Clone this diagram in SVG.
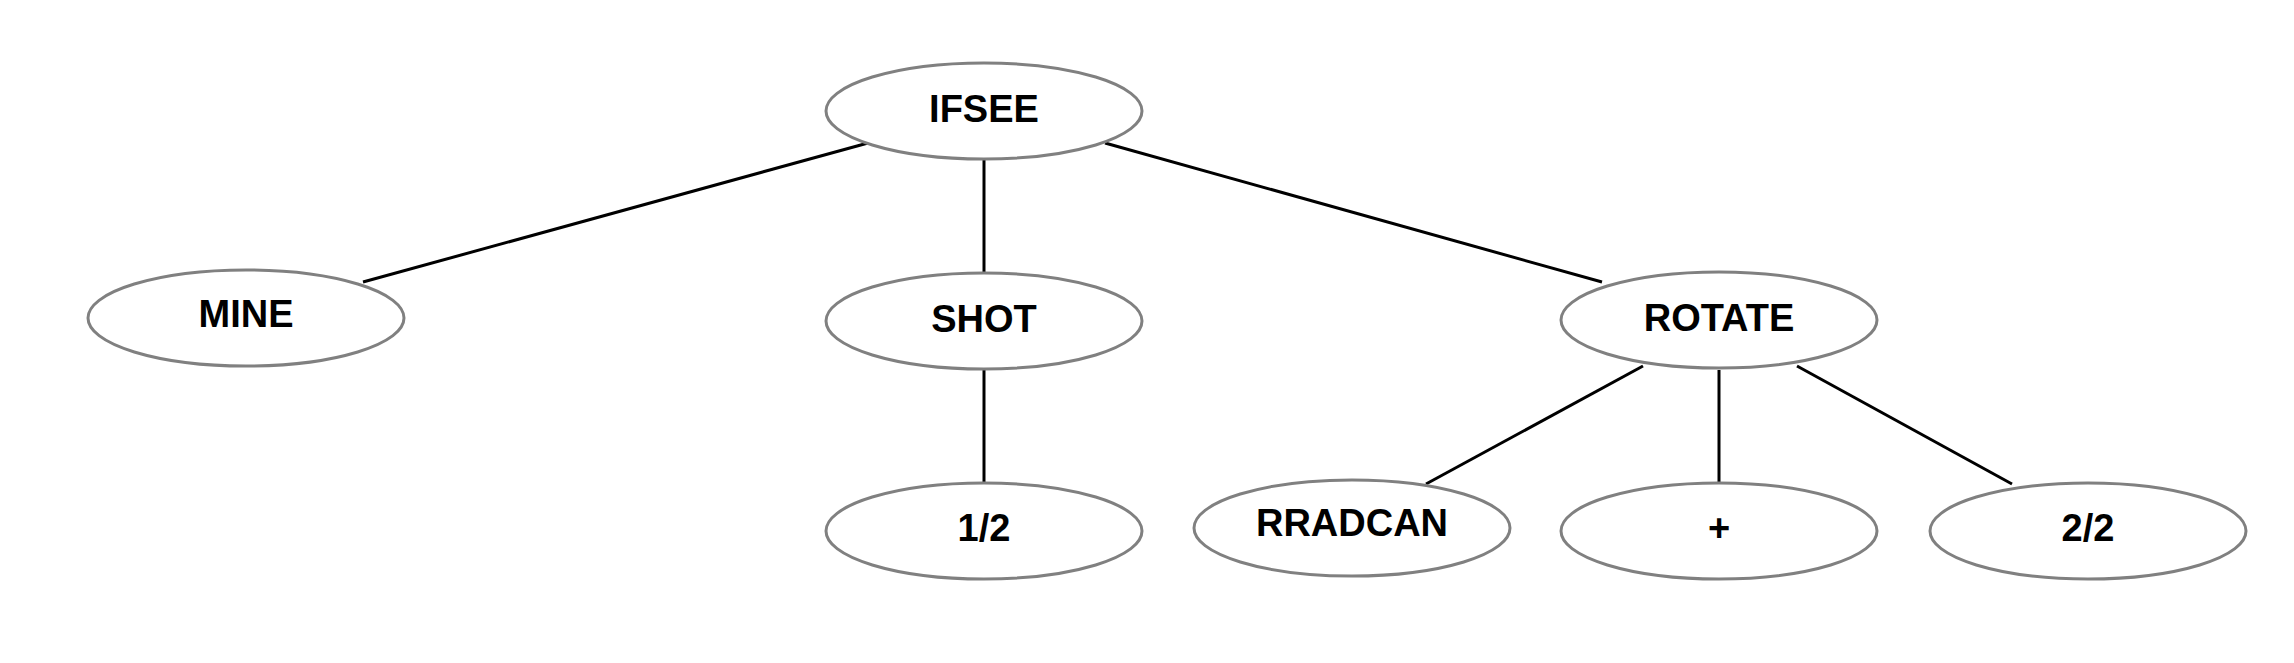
<svg xmlns="http://www.w3.org/2000/svg" width="2294" height="663" viewBox="0 0 2294 663">
<style>
ellipse{fill:#fff;stroke:#808080;stroke-width:3}
text{font-family:"Liberation Sans",Arial,sans-serif;font-weight:bold;font-size:38px;text-anchor:middle;dominant-baseline:central;fill:#000}
#edges line{stroke:#000;stroke-width:3}
</style>
<rect width="2294" height="663" fill="#fff"/>
<g id="edges">
<line x1="868" y1="143" x2="363" y2="282"/>
<line x1="984" y1="159" x2="984" y2="273"/>
<line x1="1105" y1="143" x2="1602" y2="282"/>
<line x1="984" y1="370" x2="984" y2="482"/>
<line x1="1643" y1="366" x2="1426" y2="484"/>
<line x1="1719" y1="370" x2="1719" y2="482"/>
<line x1="1797" y1="366" x2="2012" y2="484"/>
</g>
<g id="IFSEE"><ellipse cx="984" cy="111" rx="158" ry="48"/><text x="984" y="109">IFSEE</text></g>
<g id="MINE"><ellipse cx="246" cy="318" rx="158" ry="48"/><text x="246" y="314">MINE</text></g>
<g id="SHOT"><ellipse cx="984" cy="321" rx="158" ry="48"/><text x="984" y="319">SHOT</text></g>
<g id="ROTATE"><ellipse cx="1719" cy="320" rx="158" ry="48"/><text x="1719" y="318">ROTATE</text></g>
<g id="n12"><ellipse cx="984" cy="531" rx="158" ry="48"/><text x="984" y="528">1/2</text></g>
<g id="RRADCAN"><ellipse cx="1352" cy="528" rx="158" ry="48"/><text x="1352" y="523">RRADCAN</text></g>
<g id="plus"><ellipse cx="1719" cy="531" rx="158" ry="48"/><text x="1719" y="528">+</text></g>
<g id="n22"><ellipse cx="2088" cy="531" rx="158" ry="48"/><text x="2088" y="528">2/2</text></g>
</svg>
